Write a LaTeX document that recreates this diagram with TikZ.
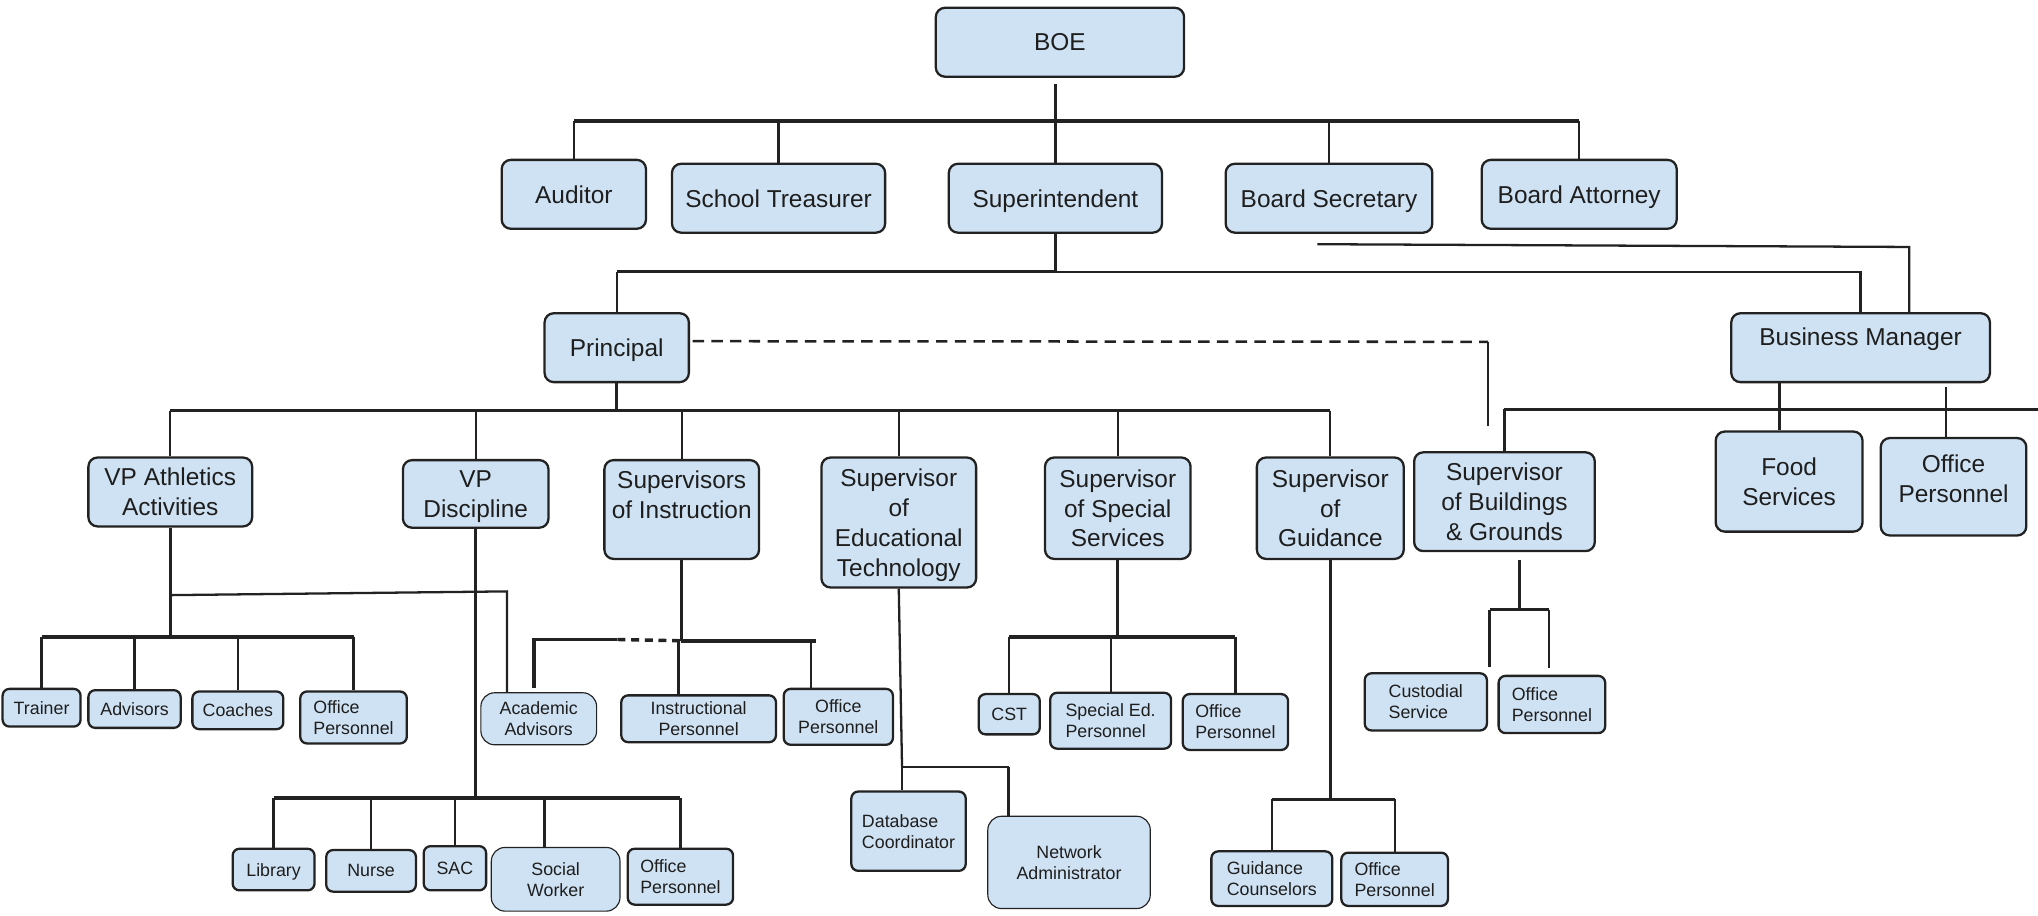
\documentclass[tikz,border=0pt]{standalone}
\usepackage{fontspec}
\setmainfont{Liberation Sans}
\usepackage{tikz}
\usetikzlibrary{calc}
\definecolor{ocFill}{RGB}{207,226,243}
\definecolor{ocLine}{RGB}{ 34, 34, 34}
\definecolor{ocText}{RGB}{ 30, 30, 30}

\begin{document}
\begin{tikzpicture}[
  x=0.02cm,y=-0.02cm,
  box/.style ={draw=ocLine,fill=ocFill,line width=1pt,rounded corners=4pt,
               inner sep=0pt,align=center,text=ocText,text depth=0pt,
               font=\fontsize{10.7}{13.1}\selectfont},
  sbox/.style={box,rounded corners=3pt,font=\fontsize{7.8}{9.2}\selectfont},
  lbox/.style={sbox,align=left},
  tbox/.style={sbox,line width=0.5pt,rounded corners=6pt},
  wh/.style 2 args={minimum width=#1*0.02cm,minimum height=#2*0.02cm},
  bus/.style ={draw=ocLine,line width=1.5pt},
  stem/.style={draw=ocLine,line width=1.25pt},
  drop/.style={draw=ocLine,line width=1pt},
  dlink/.style={drop,line width=1.1pt,dash pattern=on 5pt off 3.2pt},
  dbus/.style={bus,dash pattern=on 3.5pt off 2.5pt}
]
\useasboundingbox (0,0) rectangle (1568,704);

% board
\node[box,wh={191}{53}] (boe) at (815.5,32.5)  {BOE};
\node[box,wh={111}{53}] (aud) at (441.5,149.5) {Auditor};
\node[box,wh={164}{53}] (tre) at (599,152.5)   {School Treasurer};
\node[box,wh={164}{53}] (sup) at (812,152.5)   {Superintendent};
\node[box,wh={159}{53}] (sec) at (1022.5,152.5){Board Secretary};
\node[box,wh={150}{53}] (att) at (1215,149.5)  {Board Attorney};
% district
\node[box,wh={111}{53}] (pri) at (474.5,267.5)  {Principal};
\node[box,wh={199}{53}] (bm)  at (1431.5,267.5) {Business Manager\\[-3.5pt]~};
% under principal / business manager
\node[box,wh={126}{53}]  (vpa)  at (131,378.5)   {VP Athletics\\Activities};
\node[box,wh={112}{52}]  (vpd)  at (366,380)     {VP\\Discipline};
\node[box,wh={119}{76}]  (soi)  at (524.5,392)   {Supervisors\\of Instruction\\~};
\node[box,wh={119}{100}] (set)  at (691.5,402)   {Supervisor\\of\\Educational\\Technology};
\node[box,wh={112}{78}]  (sss)  at (860,391)     {Supervisor\\of Special\\Services};
\node[box,wh={113}{78}]  (sgd)  at (1023.5,391)  {Supervisor\\of\\Guidance};
\node[box,wh={139}{76}]  (sbg)  at (1157.5,386)  {Supervisor\\of Buildings\\\& Grounds};
\node[box,wh={113}{77}]  (food) at (1376.5,370.5) {Food\\Services};
\node[box,wh={112}{75}]  (obm)  at (1503,374.5)  {Office\\Personnel\\[-6.3pt]~};
% staff
\node[sbox,wh={60}{29}]  (trn)  at (32,544.5)    {Trainer};
\node[sbox,wh={71}{29}]  (adv)  at (103.5,545.5) {Advisors};
\node[sbox,wh={70}{29}]  (coa)  at (183,546.5)   {Coaches};
\node[lbox,wh={82}{40}]  (oath) at (272,552)     {Office\\Personnel};
\node[tbox,wh={89}{40}]  (aca)  at (414.5,553)   {Academic\\Advisors};
\node[sbox,wh={119}{36}] (ins)  at (537.5,553)   {Instructional\\Personnel};
\node[sbox,wh={84}{43}]  (oins) at (645,551.5)   {Office\\Personnel};
\node[sbox,wh={47}{31}]  (cst)  at (776.5,549.5) {CST};
\node[lbox,wh={93}{43}]  (sped) at (854.5,554.5) {Special Ed.\\Personnel};
\node[lbox,wh={81}{43}]  (ossv) at (950.5,555.5) {Office\\Personnel};
\node[lbox,wh={94}{44}]  (cus)  at (1097,540)    {Custodial\\Service};
\node[lbox,wh={82}{44}]  (obg)  at (1194,542)    {Office\\Personnel};
\node[sbox,wh={63}{32}]  (lib)  at (210.5,669)   {Library};
\node[sbox,wh={69}{32}]  (nur)  at (285.5,670)   {Nurse};
\node[sbox,wh={48}{34}]  (sac)  at (350,668)     {SAC};
\node[tbox,wh={99}{49}]  (soc)  at (427.5,676.5) {Social\\Worker};
\node[lbox,wh={81}{43}]  (odis) at (523.5,674.5) {Office\\Personnel};
\node[lbox,wh={88}{61}]  (dbc)  at (699,639.5)   {Database\\Coordinator};
\node[tbox,wh={125}{71}] (net)  at (822.5,663.5) {Network\\Administrator};
\node[lbox,wh={93}{42}]  (gco)  at (978.5,676)   {Guidance\\Counselors};
\node[lbox,wh={82}{41}]  (ogd)  at (1073,676.5)  {Office\\Personnel};

% board bus
\coordinate (b0) at (0,93);
\draw[stem] (sup |- boe.south) ++(0,5) -- (sup |- b0);
\draw[bus]  (aud |- b0) -- (att |- b0);
\foreach \n in {aud,tre,sup,sec,att}
  \draw[drop] (\n |- b0) -- (\n.north);

% superintendent bus
\coordinate (s0) at (0,209);
\draw[stem] (sup.south) -- (sup |- s0);
\draw[bus]  (pri |- s0) -- (sup |- s0);
\draw[drop] (sup |- s0) -| (bm.north);
\draw[drop] (pri |- s0) -- (pri.north);
\coordinate (bx) at (1469,190);
\draw[drop] (sec.south) ++(-9,8) -- (bx) -- (bx |- bm.north);
\coordinate (dx) at (1145,263);
\draw[dlink] (pri.east) ++(2,-5) -- (dx);
\draw[drop] (dx) -- ++(0,65);

% principal bus
\coordinate (p0) at (0,316);
\draw[stem] (pri.south) -- (pri |- p0);
\draw[bus]  (vpa |- p0) -- (sgd |- p0);
\foreach \n in {vpa,vpd,soi,set,sss,sgd}
  \draw[drop] (\n |- p0) -- (\n.north);

% business manager bus
\coordinate (r0) at (1568,315);
\draw[bus]  (sbg |- r0) -- (r0);
\draw[drop] (sbg |- r0) -- (sbg.north);
\coordinate (fx) at (1369,0);
\coordinate (ox) at (1497,0);
\draw[drop] (bm.south -| fx) -- (food.north -| fx);
\draw[drop] (bm.south -| ox) ++(0,3) -- (obm.north -| ox);

% athletics
\coordinate (a0) at (0,490);
\draw[stem] (vpa.south) -- (vpa |- a0);
\draw[bus]  (trn |- a0) -- (oath |- a0);
\foreach \n in {trn,adv,coa,oath}
  \draw[drop] (\n |- a0) -- (\n.north);
\coordinate (ak) at (390,455);
\draw[drop] (vpa.south) ++(0,52) -- (ak) -- (ak |- aca.north);

% discipline
\coordinate (d0) at (0,614);
\draw[stem] (vpd.south) -- (vpd |- d0);
\draw[bus]  (lib |- d0) -- (odis |- d0);
\foreach \n in {lib,nur,sac,odis}
  \draw[drop] (\n |- d0) -- (\n.north);
\coordinate (sx) at (419,0);
\draw[drop] (sx |- d0) -- (soc.north -| sx);

% instruction
\coordinate (i0) at (411,492);
\coordinate (i1) at (475,492);
\coordinate (i2) at (524,493);
\coordinate (i3) at (628,493);
\draw[stem] (soi.south) -- (soi |- i2);
\draw[bus]  (aca.north -| i0) ++(0,-3) -- (i0) -- (i1);
\draw[dbus] (i1) -- (i2);
\draw[bus]  (i2) -- (i3);
\coordinate (ix) at (522,0);
\coordinate (jx) at (624,0);
\draw[drop] (ix |- i2) -- (ins.north -| ix);
\draw[drop] (jx |- i3) -- (oins.north -| jx);

% technology
\coordinate (t0) at (694,590);
\coordinate (t1) at (776,590);
\draw[drop] (set.south) -- (t0);
\draw[drop] (t0) -- (t1);
\draw[drop] (t0) -- (dbc.north -| t0);
\draw[drop] (t1) -- (net.north -| t1);

% special services
\coordinate (c0) at (0,490);
\draw[stem] (sss.south) -- (sss |- c0);
\draw[bus]  (cst |- c0) -- (ossv |- c0);
\foreach \n in {cst,sped,ossv}
  \draw[drop] (\n |- c0) -- (\n.north);

% guidance
\coordinate (u0) at (0,615);
\draw[stem] (sgd.south) -- (sgd |- u0);
\draw[bus]  (gco |- u0) -- (ogd |- u0);
\foreach \n in {gco,ogd}
  \draw[drop] (\n |- u0) -- (\n.north);

% buildings
\coordinate (g0) at (1169,469);
\coordinate (g1) at (1146,469);
\coordinate (g2) at (1192,469);
\draw[stem] (sbg.south -| g0) ++(0,6) -- (g0);
\draw[bus]  (g1) -- (g2);
\draw[drop] (g1) -- ++(0,44);
\draw[drop] (g2) -- ++(0,45);
\end{tikzpicture}
\end{document}
